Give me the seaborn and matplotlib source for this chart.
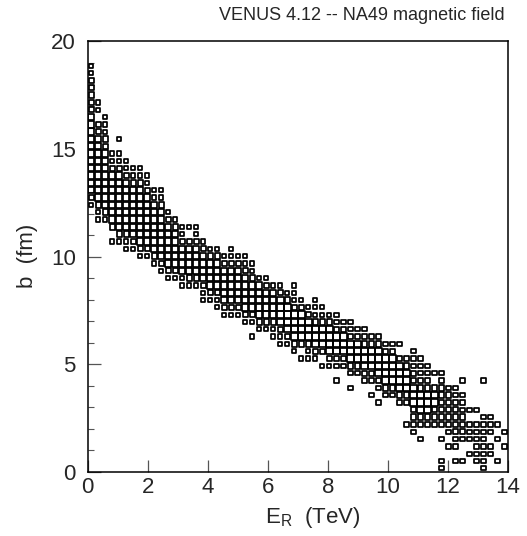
import numpy as np
import pandas as pd
import matplotlib
matplotlib.use("Agg")
import matplotlib.pyplot as plt
from matplotlib.ticker import MultipleLocator
import seaborn as sns

# 2D box histogram: 60 bins in E_R (0-14 TeV), b bins of 0.34 fm.
# For every E_R column: first occupied b-bin, then box sizes going up
# (0 = empty, 1 = small box, 2 = medium, 3 = large).
e_bin = 14.0 / 60
b_bin = 0.34

col_start = [36, 34, 34, 31, 31, 30, 30, 29, 29, 28,
             27, 26, 26, 25, 25, 25, 23, 23, 22, 21,
             21, 21, 20, 18, 19, 19, 18, 17, 17, 16,
             15, 15, 15, 14, 14, 12, 14, 11, 13, 12,
             10, 9, 10, 10, 9, 6, 5, 4, 6, 6,
             0, 3, 1, 1, 2, 1, 0, 2, 1, 3]

col_cells = ["12333333333332222211", "11233333333322011", "123333333322111",
             "1023333333211", "123333333321101", "1123333333211",
             "123333333211", "1233333333211", "123333333211",
             "12333333311", "123333333211", "1233333321",
             "123333321", "113333211", "123333201",
             "123333211", "112333321", "12333321",
             "112333321", "123333321", "1233333211",
             "123333321", "1233333211", "10123333211",
             "12333331", "12333321", "11233331",
             "112333321", "12333321", "1233332111",
             "102333321", "11233321", "123332111",
             "102333211", "12333321", "1012333211",
             "1233321", "1012333211", "1233321",
             "12333211", "101233321", "1012333321",
             "12333321", "12333321", "123333201",
             "1001233321", "112233322111", "102233322111",
             "123332111", "12233201", "11001012222211",
             "101222221", "10112222111", "100122211101",
             "1011201", "11111101", "1111111100001",
             "110111", "100101", "101"]

x_ticks = [0, 2, 4, 6, 8, 10, 12, 14]
y_ticks = [0, 5, 10, 15, 20]
title = "VENUS 4.12 -- NA49 magnetic field"

rows = []
for i, (start, cells) in enumerate(zip(col_start, col_cells)):
    for k, ch in enumerate(cells):
        if ch != "0":
            rows.append({"E": (i + 0.5) * e_bin,
                         "b": (start + k + 0.5) * b_bin,
                         "n": int(ch)})
df = pd.DataFrame(rows)

sns.set_style("ticks")
plt.rcParams["font.family"] = ["Liberation Sans", "DejaVu Sans"]
plt.rcParams["mathtext.fontset"] = "custom"
plt.rcParams["mathtext.rm"] = "Liberation Sans"
plt.rcParams["mathtext.default"] = "regular"

fig = plt.figure(figsize=(5.27, 5.36), dpi=100)
fig.patch.set_facecolor("white")
ax = fig.add_axes([0.1664, 0.1194, 0.7975, 0.8032])

sns.scatterplot(data=df, x="E", y="b", size="n",
                sizes={1: 9.5, 2: 15.0, 3: 21.0},
                marker="s", facecolor="none", edgecolor="black",
                color="black", linewidth=1.25, legend=False, ax=ax)
pts = ax.collections[0]
pts.set_facecolor("none")
pts.set_edgecolor("black")

ax.set_xlim(0, 14)
ax.set_ylim(0, 20)
ax.set_xticks(x_ticks)
ax.set_yticks(y_ticks)
ax.yaxis.set_minor_locator(MultipleLocator(1))
ax.tick_params(axis="both", which="major", direction="in", length=9,
               width=0.9, labelsize=16, color="#555555")
ax.tick_params(axis="y", which="major", pad=8.5)
ax.tick_params(axis="x", which="major", pad=3.5)
ax.tick_params(axis="y", which="minor", direction="in", length=4.5,
               width=0.8, color="#555555")
for side in ax.spines.values():
    side.set_linewidth(1.1)
    side.set_color("black")
ax.set_xlabel("")
ax.set_ylabel("")

fig.text(505 / 527, 1 - 15 / 536, title, ha="right", va="center", fontsize=13)
fig.text(27 / 527, 1 - 256 / 536, "b  (fm)", rotation=90,
         ha="center", va="center", fontsize=16)
fig.text(313 / 527, 1 - 518 / 536, "E$_{R}$  (TeV)", ha="center", va="center",
         fontsize=16)

fig.savefig("out.png", dpi=100)
